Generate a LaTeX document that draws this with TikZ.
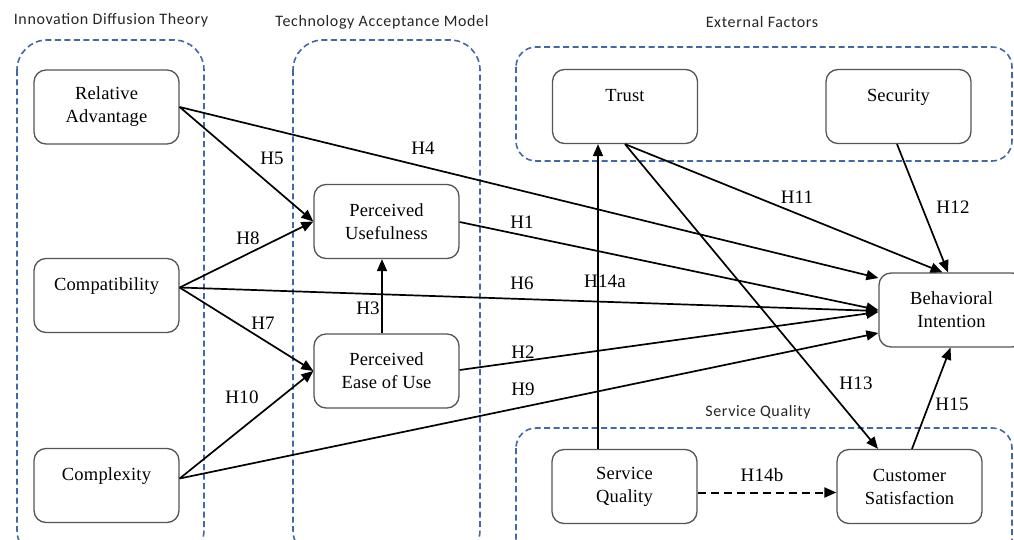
\documentclass[tikz,border=0pt]{standalone}
\usepackage{fontspec}
\setmainfont{Liberation Serif}
\newfontfamily\titlefont[LetterSpace=4]{Carlito}
\newfontfamily\boxfont[LetterSpace=1]{Liberation Serif}
\usetikzlibrary{arrows.meta,calc}
\definecolor{grpblue}{RGB}{66,104,168}
\definecolor{boxgray}{RGB}{85,85,85}
\tikzset{
  grp/.style={draw=grpblue,line width=1.6pt,dash pattern=on 6pt off 3.5pt,rounded corners=30pt},
  grpw/.style={draw=grpblue,line width=1.6pt,dash pattern=on 6pt off 3.5pt,rounded corners=20pt},
  grptitle/.style={font=\titlefont\fontsize{16}{18}\selectfont,text=black!85,inner sep=0pt},
  box/.style={draw=boxgray,line width=1.3pt,rounded corners=12pt,fill=white,
    minimum width=145pt,minimum height=74pt,align=center,inner sep=0pt,
    font=\boxfont\fontsize{18.5}{23}\selectfont},
  conn/.style={line width=1.7pt,-{Triangle[length=12pt,width=10pt]}},
  dconn/.style={conn,line width=2pt,dash pattern=on 8pt off 5pt},
  lbl/.style={font=\boxfont\fontsize{19}{22}\selectfont,inner sep=0pt}
}
\begin{document}
\begin{tikzpicture}[x=1pt,y=-1pt]
\clip (0,0) rectangle (1014,540);
\fill[white] (0,0) rectangle (1014,540);
% groups
\draw[grp] (17,40) rectangle (204,560);
\draw[grp] (293,40) rectangle (480,560);
\draw[grpw] (516,47) rectangle (1012,161);
\draw[grpw] (516,428) rectangle (1012,580);
\node[grptitle] (tIDT) at (111,20) {Innovation Diffusion Theory};
\node[grptitle] (tTAM) at (382,22) {Technology Acceptance Model};
\node[grptitle] (tEF) at (762,22) {External Factors};
\node[grptitle] (tSQ) at (758,412) {Service Quality};
% boxes
\node[box] (RA) at (106.5,107) {Relative\\Advantage};
\node[box] (CO) at (106.5,295.5) {Compatibility\\\mbox{}};
\node[box] (CX) at (106.5,485.5) {Complexity\\\mbox{}};
\node[box] (PU) at (386.5,221.5) {Perceived\\Usefulness};
\node[box] (PEU) at (386.5,371) {Perceived\\Ease of Use};
\node[box] (TR) at (625,106.5) {Trust\\\mbox{}};
\node[box] (SE) at (898.5,106.5) {Security\\\mbox{}};
\node[box,text width=137pt] (BI) at (951.5,310) {Behavioral\\Intention};
\node[box] (SQ) at (624.5,486.5) {Service\\Quality};
\node[box] (CS) at (909.5,486.5) {Customer\\Satisfaction};
% connectors
\draw[conn] (RA.east) -- (PU.west);
\draw[conn] (RA.east) -- ([yshift=32pt]BI.west);
\draw[conn] ([yshift=8pt]CO.east) -- (PU.west);
\draw[conn] ([yshift=8pt]CO.east) -- ([yshift=-1pt]BI.west);
\draw[conn] ([yshift=8pt]CO.east) -- (PEU.west);
\draw[conn] ([yshift=7pt]CX.east) -- (PEU.west);
\draw[conn] ([yshift=7pt]CX.east) -- ([yshift=-23pt]BI.west);
\draw[conn] ([yshift=-0.5pt]PU.east) -- (BI.west);
\draw[conn] ([yshift=1pt]PEU.east) -- ([yshift=-2pt]BI.west);
\draw[conn] ([xshift=-4.5pt]PEU.north) -- ([xshift=-4.5pt]PU.south);
\draw[conn] ([xshift=-26.5pt]SQ.north) -- ([xshift=-27pt]TR.south);
\draw[conn] (TR.south) -- ([xshift=-9pt]BI.north);
\draw[conn] (TR.south) -- ([xshift=-31.5pt]CS.north);
\draw[conn] ([xshift=-1.5pt]SE.south) -- ([xshift=-3.5pt]BI.north);
\draw[conn] ([xshift=2.5pt]CS.north) -- ([xshift=-1pt]BI.south);
\draw[dconn] ([yshift=-6pt]SQ.east) -- ([yshift=-6pt]CS.west);
% labels
\node[lbl] (lH5) at (272,158) {H5};
\node[lbl] (lH4) at (423,148) {H4};
\node[lbl] (lH8) at (248,238) {H8};
\node[lbl] (lH1) at (522,222) {H1};
\node[lbl] (lH6) at (522,283) {H6};
\node[lbl] (lH7) at (263,323) {H7};
\node[lbl] (lH3) at (368,308) {H3};
\node[lbl] (lH10) at (242,397) {H10};
\node[lbl] (lH2) at (523,352) {H2};
\node[lbl] (lH9) at (523,389) {H9};
\node[lbl] (lH14a) at (605,281) {H14a};
\node[lbl] (lH11) at (797,197) {H11};
\node[lbl] (lH12) at (953,207) {H12};
\node[lbl] (lH13) at (856,383) {H13};
\node[lbl] (lH15) at (952,404) {H15};
\node[lbl] (lH14b) at (762,475) {H14b};
\end{tikzpicture}
\end{document}
